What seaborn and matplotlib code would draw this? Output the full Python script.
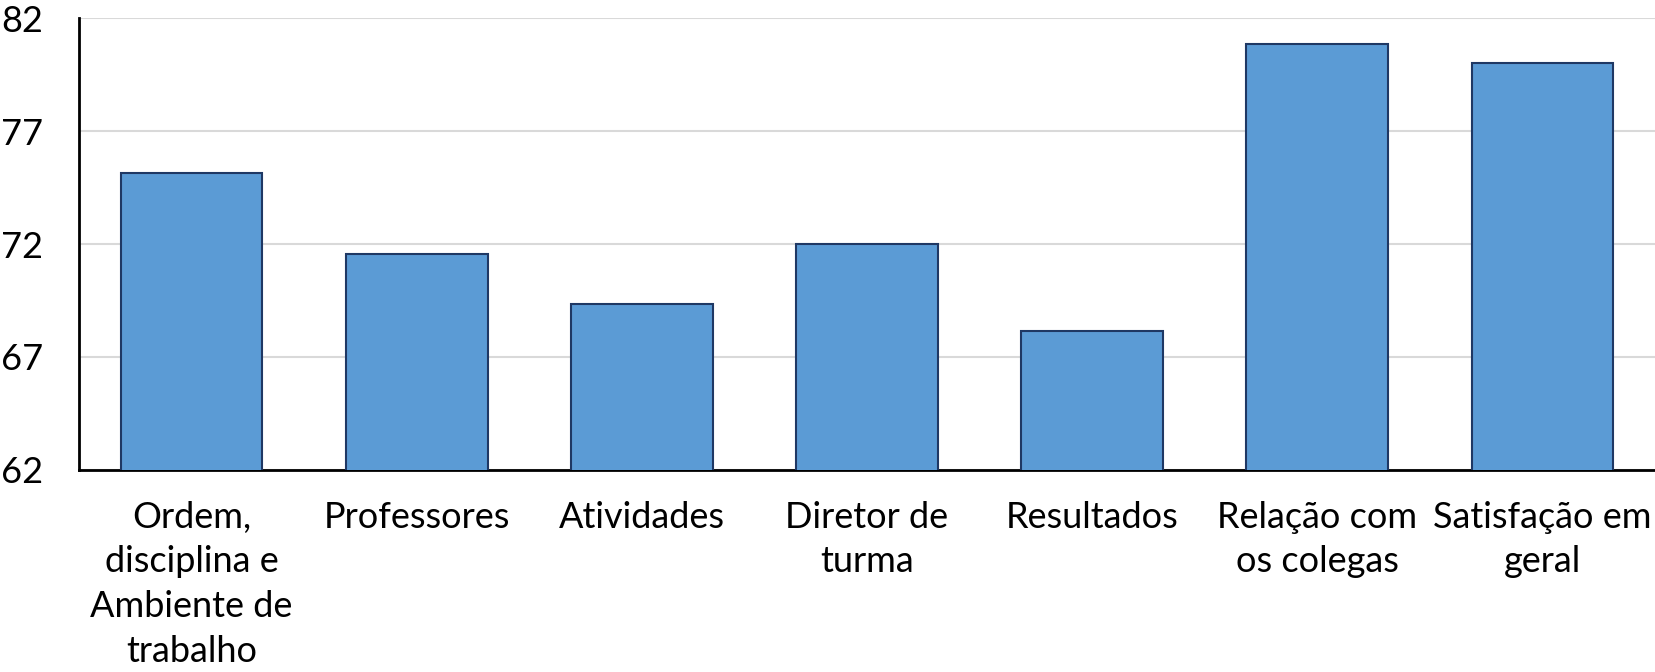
import pandas as pd
import numpy as np
import matplotlib.pyplot as plt
import seaborn as sns

# Chart data
categories = ['Ordem,\ndisciplina e\nAmbiente de\ntrabalho', 'Professores', 'Atividades',
              'Diretor de\nturma', 'Resultados', 'Relação com\nos colegas', 'Satisfação em\ngeral']
scores = [75.15, 71.55, 69.35, 72.0, 68.13, 80.85, 80.0]
y_ticks = [62, 67, 72, 77, 82]

df = pd.DataFrame({'categoria': categories, 'valor': scores})

sns.set_theme(style='white')
plt.rcParams['font.family'] = ['Lato', 'DejaVu Sans']

fig = plt.figure(figsize=(16.55, 6.72), dpi=100)
ax = fig.add_axes([0.0477, 0.3006, 0.9523, 0.6726])

sns.barplot(data=df, x='categoria', y='valor', color='#5B9BD5', saturation=1,
            width=0.63, edgecolor='#1F3864', linewidth=1.5, ax=ax, zorder=3)

ax.set_ylim(62, 82)
ax.set_yticks(y_ticks)
ax.yaxis.grid(True, color='#D9D9D9', linewidth=1.5, zorder=0)
ax.set_axisbelow(True)
ax.set_xlabel('')
ax.set_ylabel('')

for side in ['top', 'right']:
    ax.spines[side].set_visible(False)
for side in ['left', 'bottom']:
    ax.spines[side].set_color('black')
    ax.spines[side].set_linewidth(2)

ax.tick_params(axis='both', length=0, labelsize=26, colors='black')
ax.tick_params(axis='y', pad=26)
ax.tick_params(axis='x', pad=22)
for lbl in ax.get_xticklabels():
    lbl.set_linespacing(1.44)

fig.savefig('out.png', dpi=100)
